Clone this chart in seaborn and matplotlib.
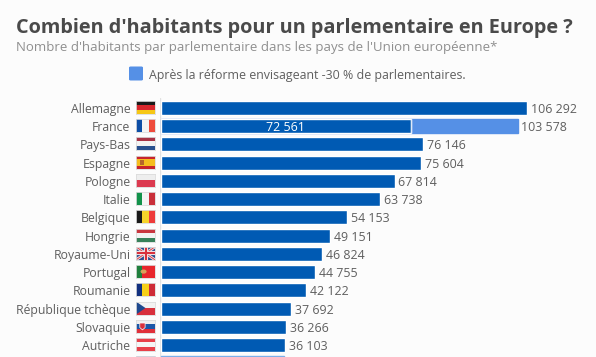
import matplotlib
matplotlib.use("Agg")
import matplotlib.pyplot as plt
from matplotlib.patches import FancyBboxPatch, Polygon, Circle
import numpy as np
import pandas as pd
import seaborn as sns

# last row is cut by the bottom of the picture, its name and label can't be read
countries = ["Allemagne", "France", "Pays-Bas", "Espagne", "Pologne", "Italie", "Belgique", "Hongrie",
             "Royaume-Uni", "Portugal", "Roumanie", "République tchèque", "Slovaquie", "Autriche", ""]
habitants = [106292, 103578, 76146, 75604, 67814, 63738, 54153, 49151, 46824, 44755, 42122, 37692, 36266, 36103, 35800]
value_labels = ["106 292", "103 578", "76 146", "75 604", "67 814", "63 738", "54 153", "49 151",
                "46 824", "44 755", "42 122", "37 692", "36 266", "36 103", ""]
apres_reforme = 72561
apres_label = "72 561"

# stripes of each flag, "h" = stacked top to bottom, "v" = side by side
flags = [
    ("h", ["#1a1a1a", "#d8262c", "#f6c715"]),
    ("v", ["#0d4ea6", "#f4f4f4", "#ee4b3c"]),
    ("h", ["#a83245", "#f2f2f2", "#27508f"]),
    ("h", ["#c8242c", "#f5bd1e", "#f5bd1e", "#c8242c"]),
    ("h", ["#eeeeee", "#dc3a50"]),
    ("v", ["#12924a", "#f4f4f4", "#c92f3a"]),
    ("v", ["#1a1a1a", "#f6d32a", "#ee3b3b"]),
    ("h", ["#c9363f", "#f2f2f2", "#37815a"]),
    ("h", ["#2a4a8c"]),
    ("v", ["#1f7f3c", "#e8262c", "#e8262c"]),
    ("v", ["#12307f", "#f6d018", "#ce2b37"]),
    ("h", ["#f2f2f2", "#d8303c"]),
    ("h", ["#f0f0f0", "#1c57a8", "#e0303a"]),
    ("h", ["#e8404a", "#f5f5f5", "#e8404a"]),
    ("h", ["#a9a0d8"]),
]

dark = "#005ab3"
light = "#5590e6"
bg = "#fcfcfc"
text_col = "#5f5f5f"
W, H = 596, 357

sns.set_theme(style="white")
plt.rcParams['font.family'] = ['Open Sans', 'DejaVu Sans']

df = pd.DataFrame({"pays": [c or " " for c in countries], "habitants": habitants})

fig = plt.figure(figsize=(W / 100, H / 100), dpi=100, facecolor=bg)
ax = fig.add_axes([160 / W, 0, (W - 160) / W, (H - 98) / H], facecolor=bg)

sns.barplot(data=df, y="pays", x="habitants", color=dark, saturation=1, width=0.77, ax=ax)
# France is split: the part above the reform value is lighter
ax.patches[1].set_color(light)
# only the blurred top edge of the cut row shows
ax.patches[14].set_color("#7db0ea")
sns.barplot(x=[apres_reforme], y=[1], orient="h", native_scale=True, color=dark, saturation=1,
            width=0.77, ax=ax)

px = 106292 / 366
ax.set_xlim(-px, 435 * px)
ax.set_ylim(249 / 18.23, -10 / 18.23)
ax.set_xlabel("")
ax.set_ylabel("")
ax.set_xticks([])
ax.set_yticks([])
sns.despine(ax=ax, left=True, bottom=True)
ax.axvline(-px * 0.6, color="#e2e2e2", lw=1, zorder=0)
ax.vlines(apres_reforme, 0.62, 1.38, color="#dfe9f8", lw=0.9, zorder=5)

for i, (val, lab) in enumerate(zip(habitants, value_labels)):
    ax.annotate(lab, (val, i), xytext=(2.7, 0), textcoords="offset points", va="center_baseline",
                color=text_col, fontsize=8.9)
    ax.annotate(countries[i], (0, i), xytext=(-22, 0), textcoords="offset points", ha="right",
                va="center_baseline", color=text_col, fontsize=8.85, annotation_clip=False)
ax.text(apres_reforme / 2, 1, apres_label, color="white", fontsize=8.9, ha="center", va="center_baseline")

# flags, one small axes per row
for i, (way, stripes) in enumerate(flags):
    yc = 107.5 + i * 18.23
    fa = fig.add_axes([136 / W, 1 - (yc + 6.5) / H, 19 / W, 13 / H])
    rgb = np.array([matplotlib.colors.to_rgb(c) for c in stripes])
    fa.imshow(rgb[:, None] if way == "h" else rgb[None, :], aspect="auto", interpolation="nearest")
    fa.set_xticks([])
    fa.set_yticks([])
    for s in fa.spines.values():
        s.set_color("#dcdcdc")
        s.set_linewidth(0.6)
    tr = fa.transAxes
    if countries[i] == "Royaume-Uni":
        for a, b in [((0, 0), (1, 1)), ((0, 1), (1, 0))]:
            fa.plot(*zip(a, b), color="#f0e6e8", lw=2, transform=tr)
            fa.plot(*zip(a, b), color="#d9404a", lw=0.7, transform=tr)
        fa.plot([0.5, 0.5], [0, 1], color="#f0e6e8", lw=3, transform=tr)
        fa.plot([0, 1], [0.5, 0.5], color="#f0e6e8", lw=3, transform=tr)
        fa.plot([0.5, 0.5], [0, 1], color="#d9303c", lw=1.5, transform=tr)
        fa.plot([0, 1], [0.5, 0.5], color="#d9303c", lw=1.5, transform=tr)
    elif countries[i] == "République tchèque":
        fa.add_patch(Polygon([(0, 0), (0.5, 0.5), (0, 1)], transform=tr, fc="#1f4a8f", ec="none"))
    elif countries[i] == "Espagne":
        fa.add_patch(Polygon([(0.22, 0.32), (0.42, 0.32), (0.42, 0.68), (0.22, 0.68)], transform=tr, fc="#b5652a", ec="none"))
    elif countries[i] == "Portugal":
        fa.add_patch(Circle((0.4, 0.5), 0.16, transform=tr, fc="#d9a05a", ec="none"))
    elif countries[i] == "Slovaquie":
        fa.add_patch(Polygon([(0.2, 0.75), (0.48, 0.75), (0.48, 0.4), (0.34, 0.22), (0.2, 0.4)], transform=tr,
                             fc="#d8303c", ec="white", lw=0.5))

fig.text(16 / W, 1 - 25 / H, "Combien d'habitants pour un parlementaire en Europe ?", color="#4a4a4a",
         fontsize=14.3, fontweight="bold", va="center_baseline")
fig.text(16 / W, 1 - 46 / H, "Nombre d'habitants par parlementaire dans les pays de l'Union européenne*",
         color="#8f8f8f", fontsize=9.5, va="center_baseline")
fig.text(149 / W, 1 - 74 / H, "Après la réforme envisageant -30 % de parlementaires.", color=text_col,
         fontsize=8.9, va="center_baseline")
fig.patches.append(FancyBboxPatch((129 / W, 1 - 80.5 / H), 14 / W, 14 / H,
                   boxstyle="round,pad=0,rounding_size=0.003", transform=fig.transFigure, fc=light, ec="none"))

fig.savefig("out.png", dpi=100, facecolor=bg)
